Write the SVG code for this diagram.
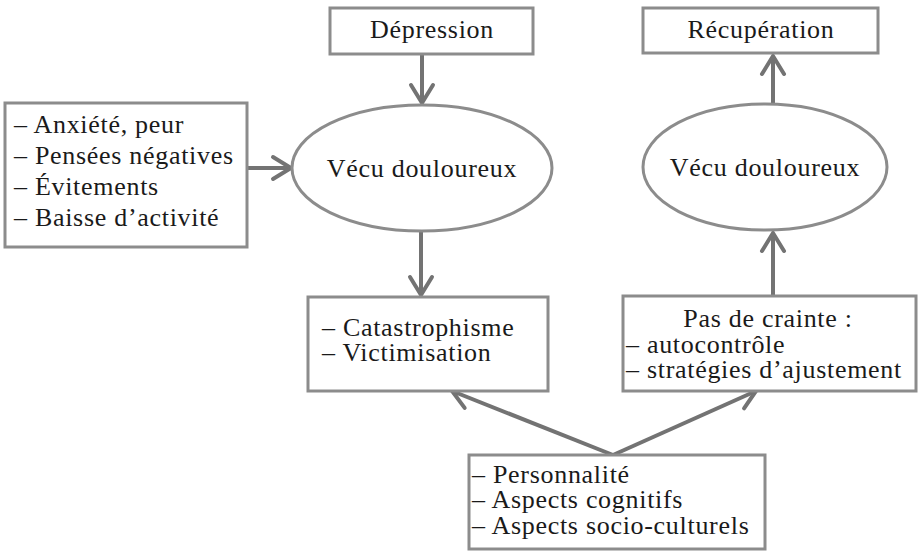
<svg xmlns="http://www.w3.org/2000/svg" width="919" height="552" viewBox="0 0 919 552">
<style>
.box{fill:#fff;stroke:#8c8c8c;stroke-width:3}
.ell{fill:#fff;stroke:#8c8c8c;stroke-width:3}
.t{font-family:"Liberation Serif","Times New Roman",serif;font-size:26px;letter-spacing:0.7px;fill:#1a1a1a}
.c{text-anchor:middle}
.arr{fill:none;stroke:#737373;stroke-width:4;marker-end:url(#ah)}
</style>
<defs>
<marker id="ah" markerUnits="userSpaceOnUse" viewBox="-22 -14 26 28" markerWidth="26" markerHeight="28" refX="0" refY="0" orient="auto">
<path d="M-18,-11 L0,0 L-18,11" fill="none" stroke="#737373" stroke-width="4" stroke-linecap="round" stroke-linejoin="miter"/>
</marker>
</defs>
<rect width="919" height="552" fill="#fff"/>
<g id="connectors">
<line class="arr" x1="422" y1="54" x2="422" y2="103"/>
<line class="arr" x1="247" y1="168" x2="291" y2="168"/>
<line class="arr" x1="421" y1="232" x2="421" y2="295"/>
<line class="arr" x1="773" y1="295" x2="773" y2="233"/>
<line class="arr" x1="773" y1="103" x2="773" y2="56"/>
<line class="arr" x1="613" y1="455" x2="452" y2="391"/>
<line class="arr" x1="613" y1="455" x2="756" y2="391"/>
</g>
<g id="depression">
<rect class="box" x="330" y="8" width="203" height="46"/>
<text class="t c" x="432" y="38">Dépression</text>
</g>
<g id="recuperation">
<rect class="box" x="643" y="8" width="235" height="45"/>
<text class="t c" x="761" y="38">Récupération</text>
</g>
<g id="facteurs">
<rect class="box" x="5" y="103" width="242" height="144"/>
<text class="t" x="14" y="133">– Anxiété, peur</text>
<text class="t" x="14" y="164">– Pensées négatives</text>
<text class="t" x="14" y="195">– Évitements</text>
<text class="t" x="14" y="226">– Baisse d’activité</text>
</g>
<g id="vecu-gauche">
<ellipse class="ell" cx="422" cy="168" rx="130" ry="63"/>
<text class="t c" x="422" y="177">Vécu douloureux</text>
</g>
<g id="vecu-droite">
<ellipse class="ell" cx="765" cy="167" rx="122" ry="63"/>
<text class="t c" x="765" y="176">Vécu douloureux</text>
</g>
<g id="catastrophisme">
<rect class="box" x="308" y="297" width="240" height="94"/>
<text class="t" x="322" y="336">– Catastrophisme</text>
<text class="t" x="322" y="361">– Victimisation</text>
</g>
<g id="pas-de-crainte">
<rect class="box" x="623" y="296" width="293" height="95"/>
<text class="t c" x="768" y="327">Pas de crainte :</text>
<text class="t" x="626" y="353">– autocontrôle</text>
<text class="t" x="626" y="378">– stratégies d’ajustement</text>
</g>
<g id="facteurs-personnels">
<rect class="box" x="469" y="455" width="296" height="94"/>
<text class="t" x="472" y="483">– Personnalité</text>
<text class="t" x="472" y="508">– Aspects cognitifs</text>
<text class="t" x="472" y="534">– Aspects socio-culturels</text>
</g>
</svg>
